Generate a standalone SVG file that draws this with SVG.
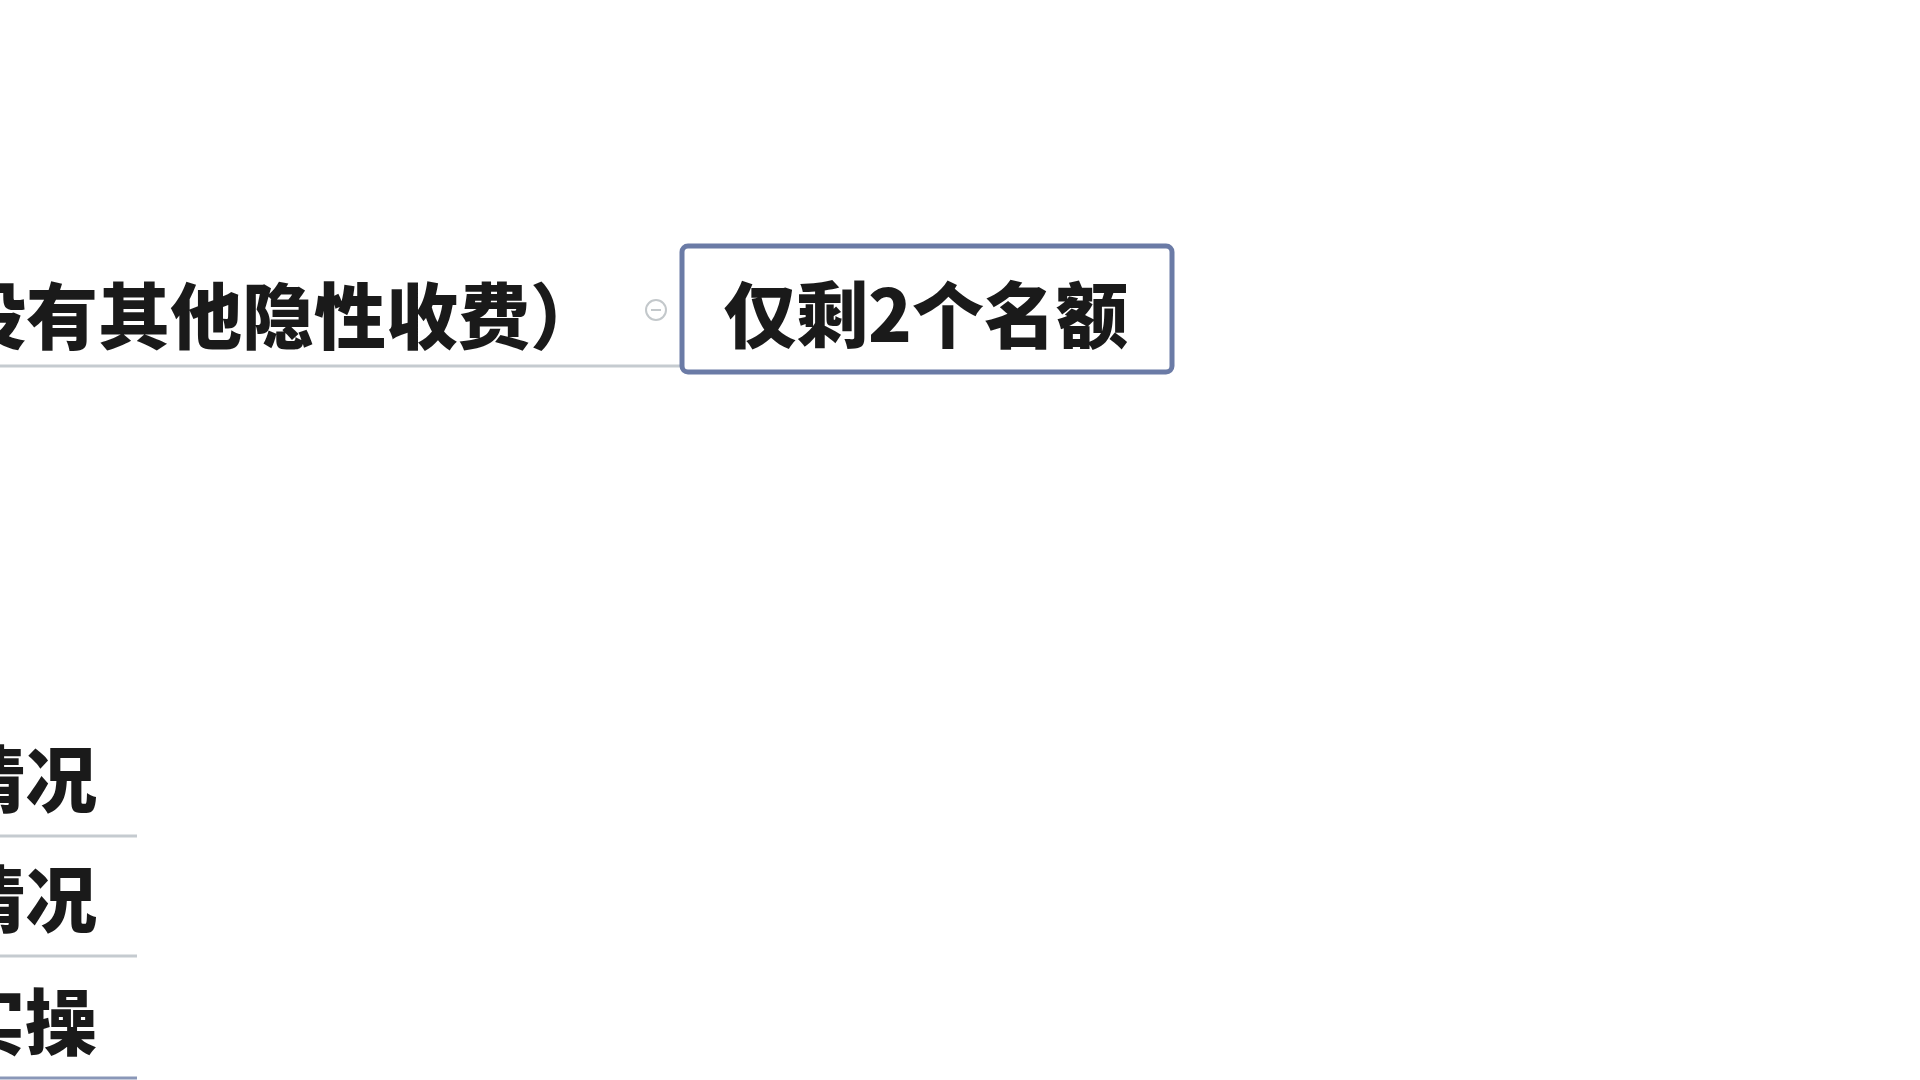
<svg xmlns="http://www.w3.org/2000/svg" width="1920" height="1080" viewBox="0 0 1920 1080">
<style>
.t{font-family:"Noto Sans CJK SC","Noto Sans",sans-serif;font-weight:900;fill:#1a1a1a}
.ln{stroke:#c5cbd0;stroke-width:3;fill:none}
</style>
<rect width="1920" height="1080" fill="#ffffff"/>
<g id="connectors">
<line class="ln" x1="0" y1="366" x2="682" y2="366"/>
<line class="ln" x1="0" y1="836" x2="137" y2="836"/>
<line class="ln" x1="0" y1="956" x2="137" y2="956"/>
<line x1="0" y1="1078" x2="137" y2="1078" stroke="#8a97b8" stroke-width="3"/>
</g>
<g id="node-fee">
<text class="t" x="602" y="343" font-size="72" text-anchor="end">没有其他隐性收费）</text>
</g>
<g id="collapse-icon">
<circle cx="656" cy="310" r="10" fill="#ffffff" stroke="#c3c8cb" stroke-width="2"/>
<line x1="651" y1="310" x2="661" y2="310" stroke="#c3c8cb" stroke-width="2"/>
</g>
<g id="node-quota">
<rect x="682" y="246" width="490" height="126" rx="6" ry="6" fill="#ffffff" stroke="#6b7ba6" stroke-width="5"/>
<text class="t" x="926" y="342" font-size="72" text-anchor="middle">仅剩2个名额</text>
</g>
<g id="node-a">
<text class="t" x="97" y="806" font-size="72" text-anchor="end">情况</text>
</g>
<g id="node-b">
<text class="t" x="97" y="926" font-size="72" text-anchor="end">情况</text>
</g>
<g id="node-c">
<text class="t" x="97" y="1049" font-size="72" text-anchor="end">实操</text>
</g>
</svg>
